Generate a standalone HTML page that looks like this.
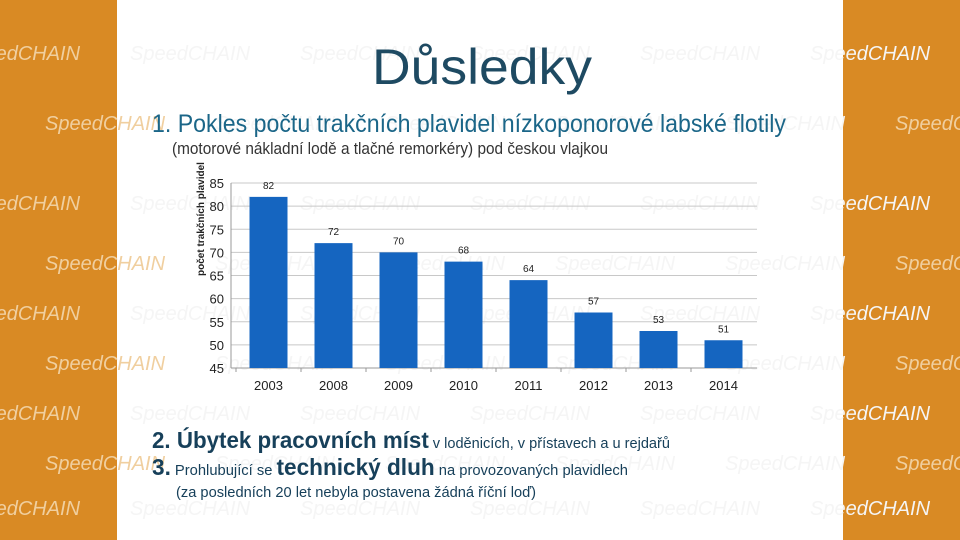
<!DOCTYPE html>
<html><head><meta charset="utf-8"><style>
html,body{margin:0;padding:0;width:960px;height:540px;overflow:hidden;background:#fff}
svg{display:block;font-family:"Liberation Sans",sans-serif}
</style></head><body>
<svg id="s" width="960" height="540" viewBox="0 0 960 540">
<rect x="0" y="0" width="960" height="540" fill="#ffffff"/>
<rect x="0" y="0" width="117" height="540" fill="#d98a24"/>
<rect x="843" y="0" width="117" height="540" fill="#d98a24"/>
<g id="pattern"></g>
<text x="482" y="84" text-anchor="middle" font-size="50" fill="#1e4a62" textLength="220" lengthAdjust="spacingAndGlyphs">Důsledky</text>
<text x="152" y="132" font-size="25" fill="#1b6688" textLength="634" lengthAdjust="spacingAndGlyphs">1. Pokles počtu trakčních plavidel nízkoponorové labské flotily</text>
<text x="172" y="154" font-size="17" fill="#333" textLength="436" lengthAdjust="spacingAndGlyphs">(motorové nákladní lodě a tlačné remorkéry) pod českou vlajkou</text>
<g id="chart"></g>
<text x="152" y="448" fill="#17405a" textLength="518" lengthAdjust="spacingAndGlyphs"><tspan font-size="23" font-weight="bold">2. Úbytek pracovních míst</tspan><tspan font-size="15"> v loděnicích, v přístavech a u rejdařů</tspan></text>
<text x="152" y="475" fill="#17405a" textLength="476" lengthAdjust="spacingAndGlyphs"><tspan font-size="23" font-weight="bold">3.</tspan><tspan font-size="15"> Prohlubující se </tspan><tspan font-size="23" font-weight="bold">technický dluh</tspan><tspan font-size="15"> na provozovaných plavidlech</tspan></text>
<text x="176" y="497" font-size="15" fill="#17405a" textLength="360" lengthAdjust="spacingAndGlyphs">(za posledních 20 let nebyla postavena žádná říční loď)</text>
</svg>
<script>
const categories = ["2003","2008","2009","2010","2011","2012","2013","2014"];
const values = [82,72,70,68,64,57,53,51];
const yTicks = [45,50,55,60,65,70,75,80,85];
const NS = "http://www.w3.org/2000/svg";
function mk(tag, attrs, parent, txt){const e=document.createElementNS(NS,tag);for(const k in attrs)e.setAttribute(k,attrs[k]);if(txt!==undefined)e.textContent=txt;parent.appendChild(e);return e;}
const pat=document.getElementById('pattern');
const rows=[60,130,210,270,320,370,420,470,515];
rows.forEach((y,i)=>{
  for(let j=0;j<6;j++){
    const x=-40+j*170+(i%2)*85;
    const onOrange = x<100 || x>830;
    const t=mk('text',{x:x,y:y,'font-size':'20','font-style':'italic',fill:onOrange?'#f0cf9f':'#f5f5f5'},pat,'SpeedCHAIN');
    
    
  }
});
const g=document.getElementById('chart');
const x0=236, step=65, barW=38;
const yMin=45, yMax=85, yBot=368, yTop=183;
function yS(v){return yBot-(v-yMin)*(yBot-yTop)/(yMax-yMin);}
function xS(i){return x0+i*step;}
yTicks.forEach(t=>{
  if(t>yMin){const l=mk('line',{x1:231,x2:757,y1:yS(t),y2:yS(t),stroke:'#c8c8c8','stroke-width':1},g);
  
  }
  const tx=mk('text',{x:224,y:yS(t)+5,'text-anchor':'end','font-size':'13',fill:'#222'},g,String(t));
  
  
});
const ax=mk('line',{x1:231,x2:757,y1:yBot,y2:yBot,stroke:'#999','stroke-width':1},g);


const ay=mk('line',{x1:231,x2:231,y1:yTop,y2:yBot,stroke:'#999','stroke-width':1},g);


const yt=mk('text',{transform:'translate(204,219) rotate(-90)','text-anchor':'middle','font-size':'10','font-weight':'bold',fill:'#222'},g,'počet trakčních plavidel');


categories.forEach((c,i)=>{
  const v=values[i];
  const cx=xS(i)+step/2;
  const r=mk('rect',{x:cx-barW/2,y:yS(v),width:barW,height:yBot-yS(v),fill:'#1565c0'},g);
  
  
  const vl=mk('text',{x:cx,y:yS(v)-8,'text-anchor':'middle','font-size':'10',fill:'#222'},g,String(v));
  
  
  const xl=mk('text',{x:cx,y:390,'text-anchor':'middle','font-size':'13',fill:'#222'},g,c);
  
  
  const tk=mk('line',{x1:xS(i),x2:xS(i),y1:yBot,y2:yBot+4,stroke:'#999'},g);
  
  
});
</script>
</body></html>
